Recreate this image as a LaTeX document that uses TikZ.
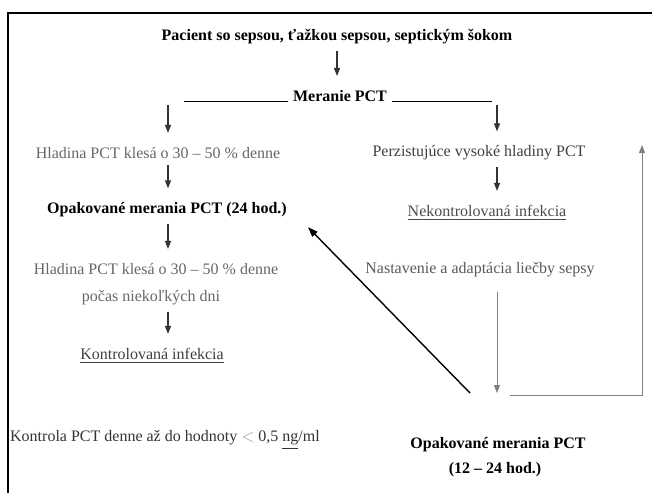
\documentclass[tikz,border=0pt]{standalone}
\usepackage{fontspec}
\setmainfont{Liberation Serif}
\usetikzlibrary{arrows.meta}

\begin{document}
\begin{tikzpicture}[x=0.5pt,y=-0.5pt,
	txt/.style={inner xsep=2pt,inner ysep=3pt,font=\fontsize{8}{9.6}\selectfont},
	hd/.style={txt,font=\fontsize{8}{9.6}\selectfont\bfseries},
	arr/.style={-{Triangle[length=4pt,width=3pt]},line width=0.6pt,draw=black!80,shorten >=4pt},
	grayarr/.style={arr,draw=black!50,line width=0.5pt},
	diagarr/.style={-{Triangle[length=5pt,width=3.5pt]},line width=0.7pt,shorten >=12pt},
	looparr/.style={-{Triangle[length=4pt,width=3pt]},line width=0.5pt,draw=black!50}]
			\useasboundingbox (0,0) rectangle (652,493);
			\draw[line width=0.8pt] (8,493) -- (8,13) -- (652,13);
			% columns of the arrows
			\coordinate (lcol) at (168,0);
			\coordinate (rcol) at (497,0);
			\node[hd] (title) at (337,37) {Pacient so sepsou, ťažkou sepsou, septickým šokom};
			\node[hd] (meranie) at (340,96) {Meranie PCT};
			\node[txt,text=black!60] (hlad1) at (158,153) {Hladina PCT klesá o 30 – 50 \% denne};
			\node[hd] (opak1) at (167,210) {Opakované merania PCT (24 hod.)};
			\node[txt,text=black!60] (hlad2) at (156,269) {Hladina PCT klesá o 30 – 50 \% denne};
			\node[txt,text=black!60] (pocas) at (151,298) {počas niekoľkých dni};
			\node[txt,text=black!75] (kontr) at (152,356) {\underline{Kontrolovaná infekcia}};
			\node[txt,text=black!80] (denne) at (165,440) {Kontrola PCT denne až do hodnoty {\color{black!35}$<$} 0,5 \underline{ng}/ml};
			\node[txt,text=black!75] (perz) at (479,153) {Perzistujúce vysoké hladiny PCT};
			\node[txt,text=black!70] (nekontr) at (487,213) {\underline{Nekontrolovaná infekcia}};
			\node[txt,text=black!65] (nastav) at (480,270) {Nastavenie a adaptácia liečby sepsy};
			\node[hd] (opak2) at (498,445) {Opakované merania PCT};
			\node[hd] (hod) at (495,470) {(12 – 24 hod.)};
			% lines beside Meranie PCT
			\draw[line width=0.5pt] (meranie.base west) ++(-1,0) -- ++(-104,0);
			\draw[line width=0.5pt] (meranie.base east) ++(1,0) -- ++(100,0);
			\draw[arr] (title.south) -- (title.south |- meranie.north);
			\draw[arr,shorten <=2pt] (meranie.base -| lcol) -- (hlad1.north -| lcol);
			\draw[arr,shorten <=2pt] (meranie.base -| rcol) -- (perz.north -| rcol);
			\draw[arr] (hlad1.south -| lcol) -- (opak1.north -| lcol);
			\draw[arr] (opak1.south -| lcol) -- (hlad2.north -| lcol);
			\draw[arr] (pocas.south -| lcol) -- (kontr.north -| lcol);
			\draw[arr] (perz.south -| rcol) -- (nekontr.north -| rcol);
			% back to the measurements
			\coordinate (join) at (497,393);
			\coordinate (diag) at (470,393);
			\coordinate (loopfoot) at (510,395);
			\coordinate (looptop) at (642,145);
			\draw[grayarr,shorten >=0pt,shorten <=4pt] (nastav.south -| rcol) -- (join);
			\draw[diagarr] (diag) -- (opak1.east);
			\draw[looparr] (loopfoot) -| (looptop);
		\end{tikzpicture}
\end{document}
